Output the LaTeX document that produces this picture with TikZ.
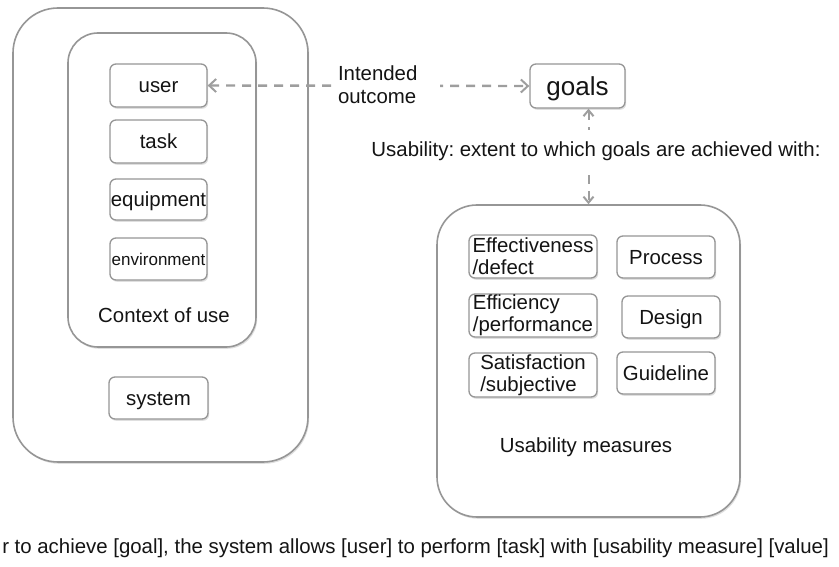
\documentclass[tikz,border=0pt]{standalone}
\usepackage{fontspec}
\setmainfont{Liberation Sans}
\usetikzlibrary{arrows.meta,shadows}
\definecolor{edge}{RGB}{150,150,150}
\definecolor{ink}{RGB}{20,20,20}
\definecolor{conn}{RGB}{158,158,158}
\newcommand\myfs{\fontsize{20.4}{22}\selectfont}
\frenchspacing
\tikzset{
  soft/.style={drop shadow={opacity=0.25,shadow xshift=1.2pt,shadow yshift=-1.8pt}},
  bigbox/.style={draw=edge,line width=1.6pt,fill=white,rounded corners=#1,inner sep=0pt,soft},
  item/.style={draw=edge,line width=1.3pt,fill=white,rounded corners=6pt,inner sep=0pt,soft,
    font=\myfs,text=ink,text height=14.6pt,text depth=0pt},
  item2/.style={draw=edge,line width=1.3pt,fill=white,rounded corners=6pt,inner sep=0pt,soft,
    font=\myfs,text=ink,align=left},
  lbl/.style={font=\myfs,text=ink,inner sep=0pt},
  conn/.style={draw=conn,line width=2.4pt,dash pattern=on 9pt off 7pt,
    {Straight Barb[length=7pt,width=13pt,line width=2pt]}-{Straight Barb[length=7pt,width=13pt,line width=2pt]}},
  connv/.style={draw=conn,line width=2pt,dash pattern=on 9pt off 7pt,
    {Straight Barb[length=6pt,width=10pt,line width=2pt]}-{Straight Barb[length=6pt,width=10pt,line width=2pt]}},
}
\begin{document}
\begin{tikzpicture}[x=1pt,y=-1pt]
\useasboundingbox (0,0) rectangle (839,567);

% left side: system / context of use
\node[bigbox=45pt,minimum width=295pt,minimum height=454pt] (sysbox) at (160.5,235) {};
\node[bigbox=30pt,minimum width=188pt,minimum height=314pt] (ctxbox) at (162,190) {};
\node[item,minimum width=97pt,minimum height=43pt] (user) at (158.5,85.5) {user};
\node[item,minimum width=97pt,minimum height=43pt] (task) at (158.5,141.5) {task};
\node[item,minimum width=97pt,minimum height=41pt] (equip) at (158.5,199.5) {equipment};
\node[item,minimum width=97pt,minimum height=42pt,font=\fontsize{17}{19}\selectfont,text height=12.2pt] (env) at (158.5,259) {environment};
\node[lbl,anchor=base] (ctxlbl) at (164,323) {Context of use};
\node[item,minimum width=99pt,minimum height=42pt] (system) at (158.5,398) {system};

% goals
\node[item,minimum width=95pt,minimum height=44pt,font=\fontsize{26}{28}\selectfont,text height=18.6pt] (goals) at (577.5,86) {goals};

% usability measures
\node[bigbox=40pt,minimum width=303pt,minimum height=312pt] (usab) at (588.5,361) {};
\node[item2,minimum width=128pt,minimum height=43pt] (eff) at (533,256.5) {Effectiveness\\/defect};
\node[item,minimum width=98pt,minimum height=42pt] (proc) at (666,257) {Process};
\node[item2,minimum width=128pt,minimum height=43pt] (effi) at (533,315.5) {Efficiency\\/performance};
\node[item,minimum width=98pt,minimum height=42pt] (design) at (671,317) {Design};
\node[item2,minimum width=128pt,minimum height=44pt] (sat) at (533,375) {Satisfaction\\/subjective};
\node[item,minimum width=98pt,minimum height=42pt] (guide) at (666,373) {Guideline};
\node[lbl,anchor=base] (umlbl) at (586,452) {Usability measures};

% connectors
\draw[conn] (user.east) -- (goals.west);
\node[font=\myfs,text=ink,fill=white,align=left,text width=96pt,inner xsep=6pt,inner ysep=2pt,
  execute at begin node=\setlength{\baselineskip}{23pt}] (intended) at (386,85) {Intended\\outcome};
\draw[connv] (goals.south -| usab.north) -- (usab.north);
\node[lbl,fill=white,inner xsep=2pt,inner ysep=12pt,anchor=base] (uslbl) at (596,157) {Usability: extent to which goals are achieved with:};

% bottom sentence
\node[lbl,anchor=base east] (sentence) at (829,553) {r to achieve [goal], the system allows [user] to perform [task] with [usability measure] [value]};
\end{tikzpicture}
\end{document}
